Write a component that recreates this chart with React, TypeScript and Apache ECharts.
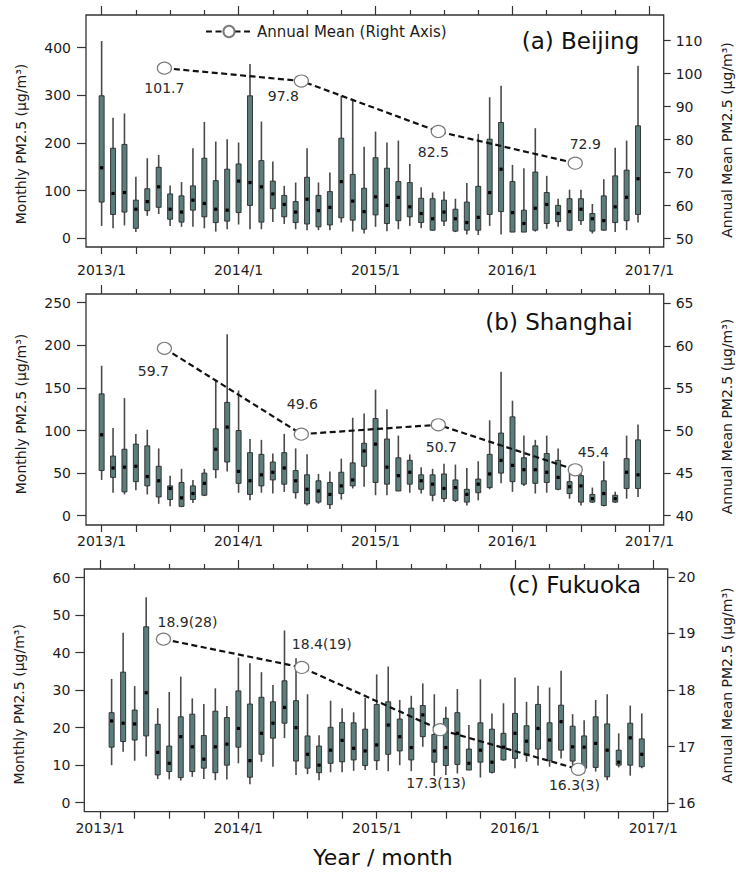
import React, { useEffect, useRef } from "react";
import * as echarts from "echarts";

const FONT = "DejaVu Sans";

// ---- axis ticks / labels ----
const X_TICK_LABELS = ["2013/1", "2014/1", "2015/1", "2016/1", "2017/1"];
const X_YEAR_TICKS = [0, 12, 24, 36, 48];
const X_QUARTER_TICKS = [0, 3, 6, 9, 12, 15, 18, 21, 24, 27, 30, 33, 36, 39, 42, 45, 48];
const X_TOP_MINOR_TICKS = [3, 6, 9, 15, 18, 21, 27, 30, 33, 39, 42, 45];
const MEAN_X = [5.5, 17.5, 29.5, 41.5]; // annual means plotted at mid-year (month index)

const BEIJING_LEFT_TICKS = [0, 100, 200, 300, 400];
const BEIJING_RIGHT_TICKS = [50, 60, 70, 80, 90, 100, 110];
const SHANGHAI_LEFT_TICKS = [0, 50, 100, 150, 200, 250];
const SHANGHAI_RIGHT_TICKS = [40, 45, 50, 55, 60, 65];
const FUKUOKA_LEFT_TICKS = [0, 10, 20, 30, 40, 50, 60];
const FUKUOKA_RIGHT_TICKS = [16, 17, 18, 19, 20];

// ---- monthly box data: [low whisker, Q1, median, Q3, high whisker], from 2013/1 ----
const BEIJING_BOX = [
  [26, 76, 148, 299, 414], [21, 50, 94, 189, 253], [27, 55, 96, 197, 262], [13, 21, 61, 80, 129],
  [47, 58, 77, 104, 168], [51, 65, 108, 149, 175], [26, 40, 61, 93, 111], [24, 34, 55, 89, 118],
  [24, 59, 80, 110, 189], [21, 45, 73, 168, 244], [14, 33, 61, 121, 203], [19, 36, 59, 145, 208],
  [29, 54, 120, 156, 201], [19, 69, 117, 299, 366], [19, 34, 108, 163, 245], [34, 62, 93, 120, 161],
  [30, 45, 71, 90, 110], [19, 33, 55, 77, 117], [17, 30, 82, 128, 189], [17, 24, 58, 90, 117],
  [17, 28, 65, 98, 138], [33, 43, 119, 210, 299], [14, 38, 78, 134, 290], [10, 19, 56, 105, 192],
  [24, 49, 87, 169, 224], [15, 31, 69, 147, 201], [19, 37, 86, 119, 205], [26, 45, 66, 117, 156],
  [21, 33, 52, 84, 107], [16, 17, 41, 83, 96], [26, 36, 55, 80, 98], [13, 15, 41, 61, 83],
  [8, 17, 33, 76, 116], [7, 17, 44, 109, 219], [26, 50, 96, 208, 296], [8, 56, 145, 243, 320],
  [13, 13, 54, 119, 154], [13, 13, 31, 59, 147], [14, 17, 63, 139, 231], [20, 31, 71, 96, 131],
  [24, 35, 52, 69, 83], [15, 17, 56, 83, 102], [28, 37, 61, 83, 102], [10, 15, 41, 52, 72],
  [16, 17, 37, 89, 124], [13, 33, 66, 131, 190], [17, 37, 86, 143, 205], [33, 50, 125, 236, 362],
];

const SHANGHAI_BOX = [
  [42, 53, 95, 143, 176], [27, 45, 56, 70, 103], [25, 28, 57, 78, 138], [30, 40, 58, 84, 96],
  [25, 35, 46, 82, 101], [14, 22, 41, 58, 79], [11, 19, 32, 35, 47], [10, 11, 21, 39, 55],
  [15, 19, 26, 35, 42], [23, 24, 38, 50, 55], [44, 54, 78, 102, 158], [52, 63, 104, 133, 213],
  [27, 38, 52, 100, 147], [18, 25, 41, 74, 90], [27, 35, 48, 72, 89], [26, 42, 51, 63, 73],
  [28, 37, 56, 74, 96], [20, 27, 41, 53, 79], [12, 14, 31, 48, 72], [14, 16, 29, 41, 49],
  [8, 13, 25, 39, 52], [19, 26, 35, 51, 67], [32, 35, 42, 62, 115], [34, 58, 76, 85, 120],
  [24, 39, 84, 114, 148], [24, 37, 57, 90, 125], [29, 29, 47, 68, 94], [27, 37, 51, 65, 72],
  [26, 31, 41, 48, 57], [17, 24, 37, 48, 55], [16, 20, 32, 49, 61], [16, 18, 33, 42, 60],
  [12, 16, 25, 31, 56], [18, 27, 37, 43, 64], [31, 33, 49, 72, 112], [38, 50, 65, 97, 169],
  [28, 40, 59, 116, 135], [35, 37, 54, 68, 94], [26, 38, 54, 82, 89], [27, 39, 51, 73, 94],
  [30, 31, 45, 65, 79], [20, 26, 34, 40, 50], [12, 16, 35, 47, 52], [15, 16, 20, 25, 33],
  [11, 12, 26, 41, 64], [15, 16, 20, 24, 28], [20, 32, 51, 67, 94], [22, 32, 48, 89, 107],
];

// Fukuoka data start at 2013/2
const FUKUOKA_FIRST_MONTH = 1;
const FUKUOKA_BOX = [
  [10, 14.8, 21.8, 24, 33], [13.6, 16.3, 21.2, 34.8, 45.3], [11.2, 16.7, 21, 24.7, 31.1],
  [12.3, 17.8, 29.3, 46.9, 54.8], [6.3, 7.4, 13.4, 20.9, 25.2], [6.2, 8.3, 10.5, 15.1, 29.5],
  [5.9, 6.7, 17.6, 22.9, 33.6], [6.9, 8.3, 14.9, 23.6, 27.8], [6.3, 9.2, 11.6, 17.9, 26.3],
  [6, 8, 14.9, 24.4, 30.5], [6.2, 10, 15.6, 22.7, 25.8], [10.5, 14.8, 19.8, 29.8, 38.7],
  [4.9, 6.8, 11.2, 26.3, 37.2], [10.9, 12.9, 18.5, 28.1, 34.8], [9.6, 17.2, 21.2, 26.9, 31.4],
  [17.2, 21.2, 25.4, 32.5, 45.9], [7.4, 11.1, 20, 27.2, 38.5], [7.6, 9.2, 12.9, 17.8, 28.9],
  [6, 8, 10, 15.1, 18], [8.1, 10.5, 14, 20.1, 27.2], [8.1, 10.9, 16.6, 21.4, 25.2],
  [8.5, 11.4, 14.5, 21.3, 24.1], [8.7, 9.9, 13.8, 19.6, 28], [8.7, 11.2, 15.4, 26.2, 34.2],
  [8.4, 12.9, 20.7, 26.9, 36.3], [10, 13.8, 17.6, 22.3, 27.4], [8.4, 11.4, 14.7, 25.2, 28.5],
  [14.9, 17.6, 23.4, 25.9, 31.8], [7.1, 10.8, 13.8, 18.2, 28.9], [7.4, 9.9, 14.7, 22.5, 25.6],
  [7.8, 10.2, 18.5, 24, 30.3], [8.7, 8.7, 10.5, 14.3, 20.7], [6.7, 10.8, 14, 21.3, 32.9],
  [7.8, 8.1, 10.8, 19.6, 23.8], [11.2, 11.4, 14.8, 18.5, 26.5], [9.2, 11.8, 18.5, 23.8, 33.4],
  [10.9, 12.7, 16.4, 20.5, 26.9], [9.9, 14.3, 19.8, 26.2, 31.2], [9.6, 11.2, 16.7, 21.3, 30.7],
  [11.8, 14, 21.6, 26, 35.2], [9.2, 11.1, 14.9, 20.4, 23.6], [7.8, 9.2, 14.8, 17.8, 22],
  [8.3, 9.4, 15.8, 22.9, 27.4], [6, 6.9, 14, 21, 28.9], [9.4, 10, 10.8, 14, 18.5],
  [7.2, 10, 17.3, 21.2, 25.9], [9.2, 9.6, 12.9, 17, 23.8],
];

// ---- annual means (right axis) ----
const BEIJING_MEAN = [101.7, 97.8, 82.5, 72.9];
const SHANGHAI_MEAN = [59.7, 49.6, 50.7, 45.4];
const FUKUOKA_MEAN = [18.9, 18.4, 17.3, 16.6];
const FUKUOKA_MEAN_TEXT = ["18.9", "18.4", "17.3", "16.3"];
const FUKUOKA_MEAN_N = [28, 19, 13, 3];

const LEGEND_NAME = "Annual Mean (Right Axis)";

type Panel = {
  title: string;
  box: number[][];
  first: number;
  mean: number[];
  meanLabels: string[];
  leftTicks: number[];
  rightTicks: number[];
  grid: { left: number; top: number; width: number; height: number };
  leftRange: [number, number];
  rightRange: [number, number];
  labelOffsets: [number, number][];
  titlePos: { right: number; top: number };
  xLabelMargin: number;
  leftLabelMargin: number;
  rightLabelMargin: number;
  leftNameShift: number;
  rightNameShift: number;
  rightNameGap: number;
};

const PANELS: Panel[] = [
  {
    title: "(a) Beijing",
    box: BEIJING_BOX,
    first: 0,
    mean: BEIJING_MEAN,
    meanLabels: BEIJING_MEAN.map((v) => v.toFixed(1)),
    leftTicks: BEIJING_LEFT_TICKS,
    rightTicks: BEIJING_RIGHT_TICKS,
    grid: { left: 86, top: 15, width: 577.7, height: 232 },
    leftRange: [-18.3, 468.6],
    rightRange: [47.5, 117.8],
    labelOffsets: [[0, 20], [-18, 15], [-5, 21], [10, -19]],
    titlePos: { right: 96.7, top: 29 },
    xLabelMargin: 15.5,
    leftLabelMargin: 15,
    rightLabelMargin: 12,
    leftNameShift: 13,
    rightNameShift: 9,
    rightNameGap: 56,
  },
  {
    title: "(b) Shanghai",
    box: SHANGHAI_BOX,
    first: 0,
    mean: SHANGHAI_MEAN,
    meanLabels: SHANGHAI_MEAN.map((v) => v.toFixed(1)),
    leftTicks: SHANGHAI_LEFT_TICKS,
    rightTicks: SHANGHAI_RIGHT_TICKS,
    grid: { left: 86, top: 294, width: 577.7, height: 231 },
    leftRange: [-10.9, 260.2],
    rightRange: [38.9, 66.1],
    labelOffsets: [[-11, 23], [1, -30], [3, 22], [18, -18]],
    titlePos: { right: 103.3, top: 310 },
    xLabelMargin: 9,
    leftLabelMargin: 15,
    rightLabelMargin: 12,
    leftNameShift: 4.5,
    rightNameShift: 7,
    rightNameGap: 56,
  },
  {
    title: "(c) Fukuoka",
    box: FUKUOKA_BOX,
    first: FUKUOKA_FIRST_MONTH,
    mean: FUKUOKA_MEAN,
    meanLabels: FUKUOKA_MEAN_TEXT.map((t, k) => `${t}(${FUKUOKA_MEAN_N[k]})`),
    leftTicks: FUKUOKA_LEFT_TICKS,
    rightTicks: FUKUOKA_RIGHT_TICKS,
    grid: { left: 84.3, top: 569, width: 583.4, height: 242.7 },
    leftRange: [-2.4, 62.3],
    rightRange: [15.85, 20.14],
    labelOffsets: [[24, -17], [20, -23], [-4, 53], [-4, 16]],
    titlePos: { right: 95, top: 573 },
    xLabelMargin: 8.8,
    leftLabelMargin: 14,
    rightLabelMargin: 10,
    leftNameShift: 14,
    rightNameShift: -5,
    rightNameGap: 52,
  },
];

const X_MIN = -1.37;
const X_MAX = 49.25;
const AXIS_COLOR = "#333";
const TEXT_COLOR = "#1c1c1c";

function shiftPadding(d: number) {
  // rotated (90°) axis name: right padding moves the text down on screen
  return d >= 0 ? [0, 2 * d, 0, 0] : [0, 0, 0, -2 * d];
}

function buildOption() {
  const grid: any[] = [];
  const xAxis: any[] = [];
  const yAxis: any[] = [];
  const series: any[] = [];
  const title: any[] = [];

  PANELS.forEach((p, pi) => {
    grid.push({
      ...p.grid,
      show: true,
      borderColor: AXIS_COLOR,
      borderWidth: 1.3,
      backgroundColor: "transparent",
      containLabel: false,
      outerBoundsMode: "none",
    });

    const baseX = {
      type: "value",
      gridIndex: pi,
      min: X_MIN,
      max: X_MAX,
      axisLine: { show: false, onZero: false },
      splitLine: { show: false },
      minorTick: { show: false },
    };
    xAxis.push({
      ...baseX,
      position: "bottom",
      axisTick: {
        show: true,
        length: 7,
        customValues: X_QUARTER_TICKS,
        lineStyle: { color: AXIS_COLOR, width: 1.2 },
      },
      axisLabel: {
        show: true,
        customValues: X_YEAR_TICKS,
        formatter: (v: number) => X_TICK_LABELS[Math.round(v / 12)],
        margin: p.xLabelMargin,
        fontSize: 14,
        fontFamily: FONT,
        color: TEXT_COLOR,
      },
    });
    xAxis.push({
      ...baseX,
      position: "top",
      axisTick: {
        show: true,
        length: 9,
        customValues: X_YEAR_TICKS,
        lineStyle: { color: AXIS_COLOR, width: 1.2 },
      },
      axisLabel: { show: false },
    });
    xAxis.push({
      ...baseX,
      position: "top",
      axisTick: {
        show: true,
        length: 5,
        customValues: X_TOP_MINOR_TICKS,
        lineStyle: { color: AXIS_COLOR, width: 1.2 },
      },
      axisLabel: { show: false },
    });

    yAxis.push({
      type: "value",
      gridIndex: pi,
      position: "left",
      min: p.leftRange[0],
      max: p.leftRange[1],
      axisLine: { show: false, onZero: false },
      splitLine: { show: false },
      axisTick: {
        show: true,
        length: 9,
        customValues: p.leftTicks,
        lineStyle: { color: AXIS_COLOR, width: 1.2 },
      },
      axisLabel: {
        customValues: p.leftTicks,
        margin: p.leftLabelMargin,
        fontSize: 14,
        fontFamily: FONT,
        color: TEXT_COLOR,
      },
      name: "Monthly PM2.5 (μg/m³)",
      nameLocation: "middle",
      nameRotate: 90,
      nameGap: 58,
      nameTextStyle: {
        fontSize: 14,
        fontFamily: FONT,
        color: TEXT_COLOR,
        padding: shiftPadding(p.leftNameShift),
      },
    });
    yAxis.push({
      type: "value",
      gridIndex: pi,
      position: "right",
      min: p.rightRange[0],
      max: p.rightRange[1],
      axisLine: { show: false, onZero: false },
      splitLine: { show: false },
      axisTick: {
        show: true,
        length: 7,
        customValues: p.rightTicks,
        lineStyle: { color: AXIS_COLOR, width: 1.2 },
      },
      axisLabel: {
        customValues: p.rightTicks,
        margin: p.rightLabelMargin,
        fontSize: 14,
        fontFamily: FONT,
        color: TEXT_COLOR,
      },
      name: "Annual Mean PM2.5 (μg/m³)",
      nameLocation: "middle",
      nameRotate: 90,
      nameGap: p.rightNameGap,
      nameTextStyle: {
        fontSize: 14,
        fontFamily: FONT,
        color: TEXT_COLOR,
        padding: shiftPadding(p.rightNameShift),
      },
    });

    series.push({
      type: "custom",
      xAxisIndex: pi * 3,
      yAxisIndex: pi * 2,
      clip: false,
      encode: { x: 0, y: [1, 2, 3, 4, 5] },
      data: p.box.map((b, i) => [i + p.first, ...b]),
      renderItem: (_params: any, api: any) => {
        const x = api.value(0);
        const lo = api.coord([x, api.value(1)]);
        const q1 = api.coord([x, api.value(2)]);
        const md = api.coord([x, api.value(3)]);
        const q3 = api.coord([x, api.value(4)]);
        const hi = api.coord([x, api.value(5)]);
        const cx = lo[0];
        const w = 5;
        return {
          type: "group",
          children: [
            {
              type: "line",
              shape: { x1: cx, y1: hi[1], x2: cx, y2: lo[1] },
              style: { stroke: "#4a4a4a", lineWidth: 1.6 },
            },
            {
              type: "rect",
              shape: { x: cx - w / 2, y: q3[1], width: w, height: Math.max(q1[1] - q3[1], 1) },
              style: { fill: "#5b7e7d", stroke: "#2a2a2a", lineWidth: 0.9 },
            },
            {
              type: "rect",
              shape: { x: cx - 1.6, y: md[1] - 1.6, width: 3.2, height: 3.2 },
              style: { fill: "#000" },
            },
          ],
        };
      },
      z: 2,
    });

    series.push({
      type: "line",
      name: pi === 0 ? LEGEND_NAME : "",
      xAxisIndex: pi * 3,
      yAxisIndex: pi * 2 + 1,
      data: p.mean.map((m, k) => ({
        value: [MEAN_X[k], m],
        label: { offset: p.labelOffsets[k] },
      })),
      symbol: "circle",
      symbolSize: [14, 12],
      showAllSymbol: true,
      clip: false,
      lineStyle: { color: "#111", width: 2.2, type: [6, 3.5] },
      itemStyle: { color: "#fff", borderColor: "#7a7a7a", borderWidth: 1.2 },
      label: {
        show: true,
        position: "inside",
        formatter: (prm: any) => p.meanLabels[prm.dataIndex],
        fontSize: 14,
        fontFamily: FONT,
        color: "#2a2a2a",
      },
      emphasis: { disabled: true },
      z: 5,
    });

    title.push({
      text: p.title,
      right: p.titlePos.right,
      top: p.titlePos.top,
      padding: 0,
      textStyle: { fontSize: 23, fontWeight: "normal", fontFamily: FONT, color: "#111" },
    });
  });

  return {
    animation: false,
    backgroundColor: "#fff",
    title,
    legend: {
      data: [LEGEND_NAME],
      left: 205,
      top: 24,
      padding: 0,
      itemWidth: 46,
      itemHeight: 14,
      selectedMode: false,
      textStyle: { fontSize: 15, fontFamily: FONT, color: TEXT_COLOR },
    },
    grid,
    xAxis,
    yAxis,
    series,
    graphic: [
      {
        type: "text",
        x: 383,
        y: 857,
        style: {
          text: "Year / month",
          fontSize: 22,
          fontFamily: FONT,
          fill: "#111",
          textAlign: "center",
          textVerticalAlign: "middle",
        },
      },
    ],
  };
}

export default function App() {
  const ref = useRef<HTMLDivElement>(null);
  useEffect(() => {
    document.body.style.margin = "0";
    if (!ref.current) return;
    const chart = echarts.init(ref.current, undefined, { renderer: "svg" });
    chart.setOption(buildOption() as any);
    return () => chart.dispose();
  }, []);
  return <div ref={ref} style={{ width: 736, height: 874 }} />;
}
